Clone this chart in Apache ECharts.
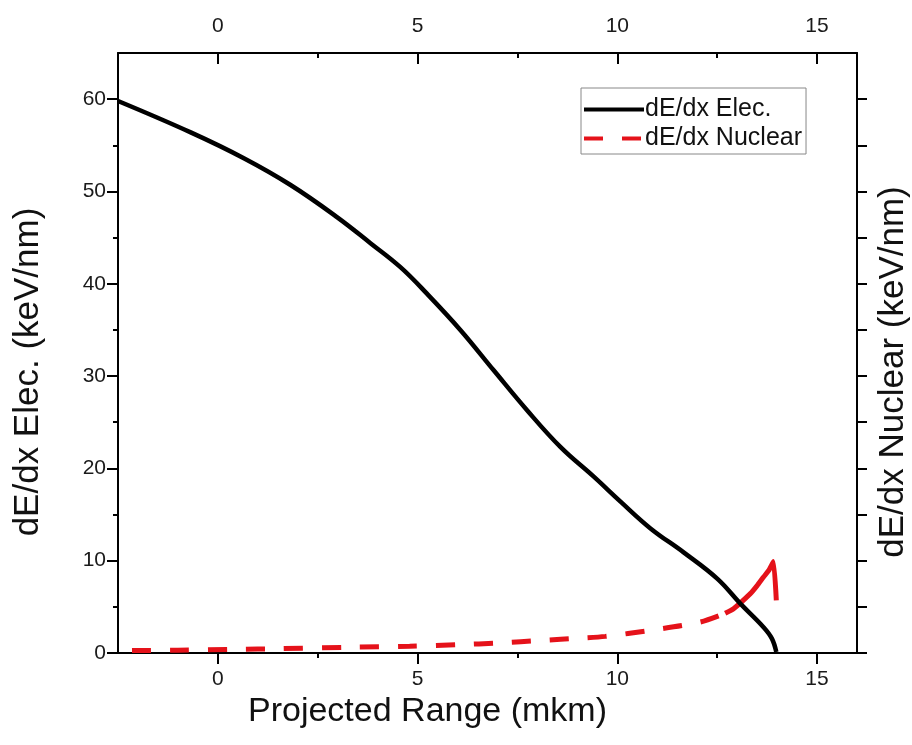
<!DOCTYPE html>
<html><head><meta charset="utf-8">
<script src="https://cdn.jsdelivr.net/npm/echarts@6/dist/echarts.min.js"></script>
<style>html,body{margin:0;padding:0;background:#fff}#c{width:912px;height:745px}</style>
</head><body><div id="c"></div>
<script>
// Electronic stopping (left axis)
const elecRange  = [-2.5, -0.68, 0.65, 1.82, 2.99, 3.82, 4.57, 5.24, 6.07, 6.91, 7.74, 8.58, 9.41, 10.08, 10.83, 11.66, 12.5, 13.08, 13.66, 13.87, 13.98];
const elecValues = [59.8, 56.4, 53.6, 50.7, 47.2, 44.4, 41.8, 38.9, 35.0, 30.6, 26.3, 22.3, 19.1, 16.4, 13.5, 10.9, 8.06, 5.35, 2.8, 1.56, 0.1];
// Nuclear stopping, dashed part
const nuclRange  = [-2.15, -1.0, 0.5, 1.5, 3.3, 4.8, 6.07, 7.0, 8.16, 9.0, 9.7, 10.83, 12.08, 12.7];
const nuclValues = [0.26, 0.3, 0.4, 0.47, 0.62, 0.73, 0.91, 1.08, 1.38, 1.6, 1.8, 2.46, 3.36, 4.3];
// Nuclear stopping, solid tail near the end of range
const tailRange  = [12.7, 12.91, 13.33, 13.5, 13.66, 13.8, 13.91, 13.98];
const tailValues = [4.3, 4.8, 6.43, 7.3, 8.23, 9.0, 9.9, 5.7];
// Ticks
const xMajorTicks = [0, 5, 10, 15];
const xMinorTicks = [2.5, 7.5, 12.5];
const yMajorTicks = [0, 10, 20, 30, 40, 50, 60];
const yMinorTicks = [5, 15, 25, 35, 45, 55];
const rightTicks  = [0, 5, 10, 15, 20, 25, 30, 35, 40, 45, 50, 55, 60];

const FONT = "'Liberation Sans', Arial, sans-serif";
const zip = (a, b) => a.map((v, i) => [v, b[i]]);
const lineCol = '#000';
const RED = '#e5121a';

function xAx(pos, ticks, len, inside, labels, showLine, extra) {
  return Object.assign({
    type: 'value', position: pos, min: -2.5, max: 16, gridIndex: 0,
    axisLine: { show: showLine, onZero: false, lineStyle: { color: lineCol, width: 2 } },
    axisTick: { show: true, customValues: ticks, length: len, inside: inside, lineStyle: { color: lineCol, width: 2 } },
    axisLabel: labels ? { show: true, customValues: ticks, fontSize: 21, color: '#1a1a1a', fontFamily: FONT, margin: labels } : { show: false },
    splitLine: { show: false }
  }, extra || {});
}
function yAx(pos, ticks, len, labels, showLine, extra) {
  return Object.assign({
    type: 'value', position: pos, min: 0, max: 65, gridIndex: 0,
    axisLine: { show: showLine, onZero: false, lineStyle: { color: lineCol, width: 2 } },
    axisTick: { show: true, customValues: ticks, length: len, inside: false, lineStyle: { color: lineCol, width: 2 } },
    axisLabel: labels ? { show: true, customValues: ticks, fontSize: 21, color: '#1a1a1a', fontFamily: FONT, margin: labels } : { show: false },
    splitLine: { show: false }
  }, extra || {});
}

const chart = echarts.init(document.getElementById('c'), null, { renderer: 'canvas' });
chart.setOption({
  animation: false,
  backgroundColor: '#fff',
  grid: { left: 118, right: 55, top: 53, bottom: 92, containLabel: false, outerBoundsMode: 'none' },
  legend: {
    data: ['dE/dx Elec.', 'dE/dx Nuclear'],
    orient: 'vertical', left: 581, top: 88,
    itemWidth: 60, itemHeight: 14, itemGap: 4,
    padding: [9, 4, 3, 1],
    borderColor: '#888', borderWidth: 1, backgroundColor: '#fff',
    itemStyle: { color: 'rgba(0,0,0,0)', borderColor: 'rgba(0,0,0,0)', borderWidth: 0 },
    lineStyle: { width: 4 },
    textStyle: { fontSize: 25, color: '#111', fontFamily: FONT, padding: [0, 0, 0, -4] }
  },
  xAxis: [
    xAx('bottom', xMajorTicks, 11, false, 16, true, {
      name: 'Projected Range (mkm)', nameLocation: 'middle', nameGap: 37,
      nameTextStyle: { fontSize: 34, color: '#111', fontFamily: FONT, padding: [0, 120, 0, 0] }
    }),
    xAx('bottom', xMinorTicks, 5, false, 0, false),
    xAx('top', xMajorTicks, 11, true, 16, true),
    xAx('top', xMinorTicks, 5, true, 0, false)
  ],
  yAxis: [
    yAx('left', yMajorTicks, 11, 12, true, {
      name: 'dE/dx Elec. (keV/nm)', nameLocation: 'middle', nameGap: 72, nameRotate: 90,
      nameTextStyle: { fontSize: 35, color: '#111', fontFamily: FONT, padding: [0, 38, 0, 0] }
    }),
    yAx('left', yMinorTicks, 5, 0, false),
    yAx('right', rightTicks, 10, 0, true, {
      name: 'dE/dx Nuclear (keV/nm)', nameLocation: 'middle', nameGap: 19, nameRotate: 90,
      nameTextStyle: { fontSize: 35, color: '#111', fontFamily: FONT, padding: [0, 38, 0, 0] }
    })
  ],
  series: [
    {
      name: 'dE/dx Elec.', type: 'line', xAxisIndex: 0, yAxisIndex: 0,
      data: zip(elecRange, elecValues), showSymbol: false, symbol: 'none', smooth: 0.4,
      lineStyle: { color: '#000', width: 4.5 }, itemStyle: { color: '#000' }, z: 3
    },
    {
      name: 'dE/dx Nuclear', type: 'line', xAxisIndex: 0, yAxisIndex: 0,
      data: zip(nuclRange, nuclValues), showSymbol: false, symbol: 'none', smooth: 0.3,
      lineStyle: { color: RED, width: 5, type: [19, 19] }, itemStyle: { color: RED }, z: 2
    },
    {
      name: 'nuclear-tail', type: 'line', xAxisIndex: 0, yAxisIndex: 0,
      data: zip(tailRange, tailValues), showSymbol: false, symbol: 'none', smooth: 0.15,
      lineStyle: { color: RED, width: 5 }, itemStyle: { color: RED }, z: 2
    }
  ]
});
</script>
</body></html>
